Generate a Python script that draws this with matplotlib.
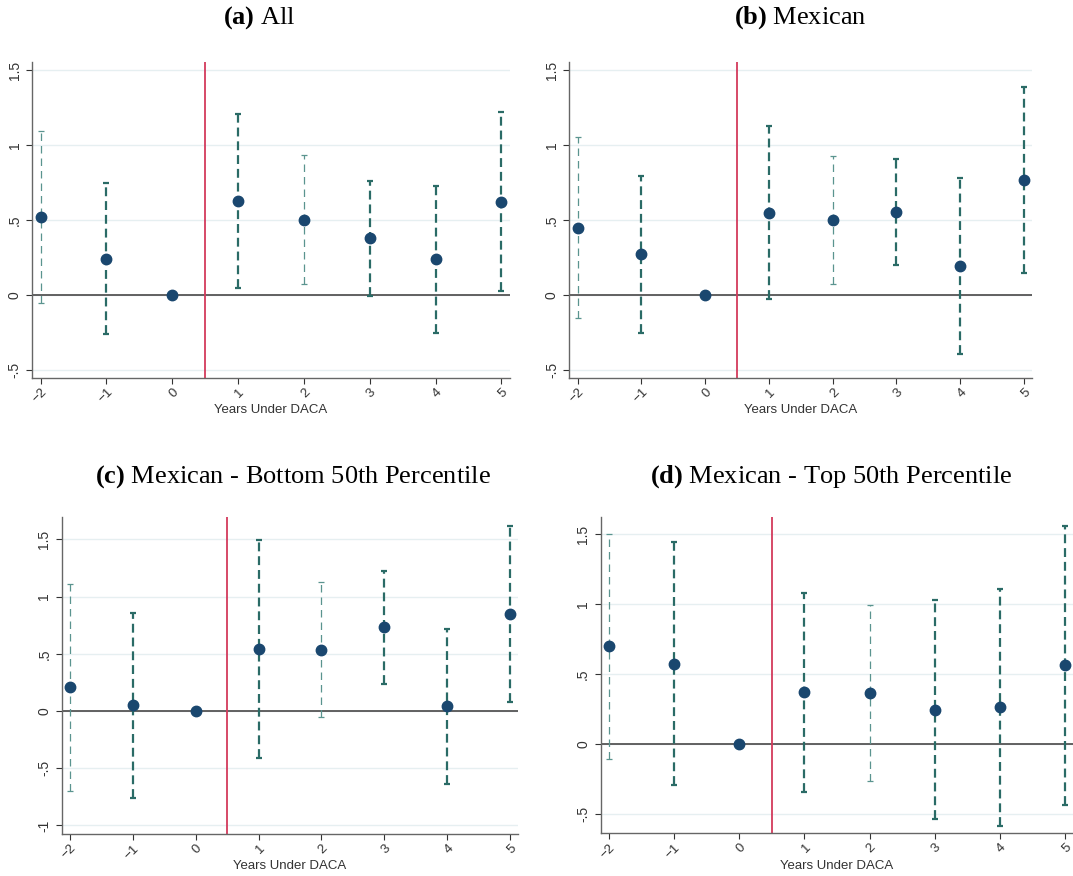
import numpy as np
import matplotlib
matplotlib.use("Agg")
import matplotlib.pyplot as plt
from matplotlib.ticker import FuncFormatter

plt.rcParams['font.family'] = ['Liberation Sans', 'DejaVu Sans']
plt.rcParams['mathtext.fontset'] = 'custom'
plt.rcParams['mathtext.rm'] = 'Liberation Serif'
plt.rcParams['mathtext.bf'] = 'Liberation Serif:bold'

years = [-2, -1, 0, 1, 2, 3, 4, 5]

# point estimates and 95% CI bounds
all_est = [0.522, 0.240, 0.0, 0.627, 0.500, 0.378, 0.238, 0.622]
all_lo = [-0.051, -0.262, 0.0, 0.049, 0.071, -0.004, -0.253, 0.029]
all_hi = [1.096, 0.744, 0.0, 1.207, 0.933, 0.762, 0.727, 1.218]

mex_est = [0.449, 0.271, 0.0, 0.549, 0.500, 0.551, 0.193, 0.767]
mex_lo = [-0.156, -0.256, 0.0, -0.027, 0.076, 0.200, -0.391, 0.147]
mex_hi = [1.056, 0.793, 0.0, 1.127, 0.927, 0.904, 0.782, 1.389]

bot_est = [0.210, 0.050, 0.0, 0.542, 0.536, 0.731, 0.041, 0.845]
bot_lo = [-0.696, -0.757, 0.0, -0.408, -0.052, 0.236, -0.635, 0.079]
bot_hi = [1.110, 0.853, 0.0, 1.494, 1.130, 1.223, 0.714, 1.614]

top_est = [0.700, 0.576, 0.0, 0.370, 0.363, 0.246, 0.263, 0.564]
top_lo = [-0.103, -0.289, 0.0, -0.342, -0.263, -0.537, -0.583, -0.432]
top_hi = [1.505, 1.443, 0.0, 1.077, 0.991, 1.029, 1.111, 1.562]

titles = ["(a)", "(b)", "(c)", "(d)"]
subtitles = ["All", "Mexican", "Mexican - Bottom 50th Percentile",
             "Mexican - Top 50th Percentile"]

# which CI whiskers come out thin/pale in the original rendering
thin_ci = [True, False, False, False, True, False, False, False]


def stata_fmt(v, pos):
    s = f"{v:g}"
    if s.startswith("0."):
        s = s[1:]
    elif s.startswith("-0."):
        s = "-" + s[2:]
    return s


def draw_panel(ax, est, lo, hi, ylim, yticks):
    ax.set_xlim(-2.13, 5.13)
    ax.set_ylim(*ylim)
    ax.set_yticks(yticks)
    ax.set_xticks(years)
    ax.yaxis.grid(True, color='#e6eff1', lw=1.0)
    ax.set_axisbelow(True)
    ax.axhline(0, color='#555555', lw=1.3, zorder=2)
    ax.axvline(0.5, color='#d33a5c', lw=1.3, zorder=2)
    for x, e, l, h, thin in zip(years, est, lo, hi, thin_ci):
        if l == h:
            continue
        if thin:
            col, lw, ls = '#5a948f', 0.9, (0, (6, 4))
        else:
            col, lw, ls = '#2a6b66', 1.6, (0, (4, 2.2))
        eb = ax.errorbar([x], [e], yerr=[[e - l], [h - e]], fmt='none',
                         ecolor=col, elinewidth=lw, capsize=2.5,
                         capthick=lw, zorder=3)
        eb[2][0].set_linestyle(ls)
    ax.plot(years, est, 'o', color='#1a476f', ms=7.5, zorder=4)
    for s in ['top', 'right']:
        ax.spines[s].set_visible(False)
    for s in ['left', 'bottom']:
        ax.spines[s].set_color('#666666')
        ax.spines[s].set_linewidth(1.0)
    ax.yaxis.set_major_formatter(FuncFormatter(stata_fmt))
    ax.tick_params(axis='y', colors='#333333', labelsize=10,
                   length=4, width=0.8)
    ax.tick_params(axis='x', colors='#333333', labelsize=9.5,
                   length=4, width=0.8, pad=2)
    plt.setp(ax.get_yticklabels(), rotation=90, va='center')
    plt.setp(ax.get_xticklabels(), rotation=45, ha='right',
             rotation_mode='anchor')
    ax.set_xlabel("Years Under DACA", fontsize=9.5, color='#333333',
                  labelpad=-1)


fig = plt.figure(figsize=(10.73, 8.76), dpi=100)

ax_a = fig.add_axes([0.0298, 0.5688, 0.4455, 0.3607])
ax_b = fig.add_axes([0.5306, 0.5688, 0.4315, 0.3607])
ax_c = fig.add_axes([0.0575, 0.0479, 0.4255, 0.3615])
ax_d = fig.add_axes([0.5598, 0.0487, 0.4405, 0.3615])

draw_panel(ax_a, all_est, all_lo, all_hi, (-0.551, 1.555), [-0.5, 0, 0.5, 1, 1.5])
draw_panel(ax_b, mex_est, mex_lo, mex_hi, (-0.551, 1.555), [-0.5, 0, 0.5, 1, 1.5])
draw_panel(ax_c, bot_est, bot_lo, bot_hi, (-1.075, 1.692), [-1, -0.5, 0, 0.5, 1, 1.5])
draw_panel(ax_d, top_est, top_lo, top_hi, (-0.638, 1.626), [-0.5, 0, 0.5, 1, 1.5])

title_xy = [(259, 18), (800, 18), (293, 477), (831, 477)]
for (px, py), t, st in zip(title_xy, titles, subtitles):
    fig.text(px / 1073, 1 - py / 876, r"$\mathbf{" + t + "}$ " + st,
             ha='center', va='center', fontsize=19,
             family='Liberation Serif')

fig.savefig("out.png", dpi=100)
